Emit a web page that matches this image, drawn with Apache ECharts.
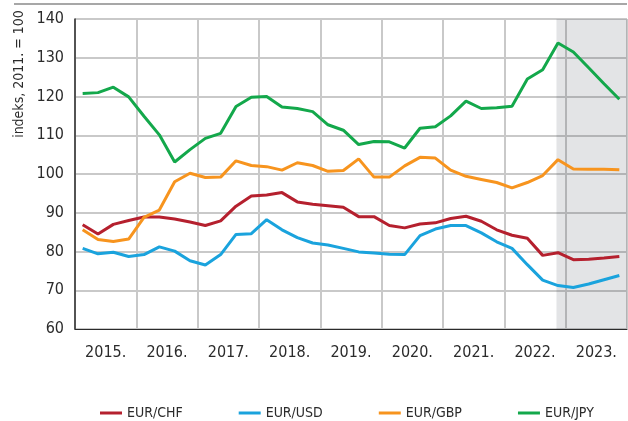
<!DOCTYPE html>
<html>
<head>
<meta charset="utf-8">
<script src="https://cdn.jsdelivr.net/npm/echarts@6/dist/echarts.min.js"></script>
<style>
    html, body {margin:0;padding:0;background:#ffffff;}
    #chart {width:628px;height:421px;}
</style>
</head>
<body>
<div id="chart"></div>
<script>
    // godine (oznake na x osi), podaci su kvartalni
    var years = ['2015.', '2016.', '2017.', '2018.', '2019.', '2020.', '2021.', '2022.', '2023.'];

    var eurChf = [86.9, 84.5, 87.0, 88.0, 88.9, 88.9, 88.4, 87.6, 86.7, 87.9, 91.7, 94.3,
                  94.6, 95.2, 92.8, 92.2, 91.8, 91.4, 89.0, 89.0, 86.7, 86.1, 87.1, 87.4,
                  88.5, 89.1, 87.8, 85.6, 84.2, 83.4, 79.0, 79.7, 77.9, 78.0, 78.3, 78.7];
    var eurUsd = [80.8, 79.4, 79.8, 78.7, 79.2, 81.2, 80.1, 77.6, 76.5, 79.2, 84.4, 84.6,
                  88.2, 85.6, 83.6, 82.2, 81.7, 80.8, 79.9, 79.6, 79.3, 79.2, 84.1, 85.8,
                  86.7, 86.7, 84.8, 82.5, 80.8, 76.6, 72.6, 71.2, 70.7, 71.6, 72.7, 73.8];
    var eurGbp = [85.6, 83.1, 82.6, 83.2, 88.8, 90.7, 98.0, 100.2, 99.1, 99.2, 103.4, 102.2,
                  101.9, 101.0, 102.9, 102.2, 100.7, 100.9, 103.9, 99.2, 99.2, 102.1, 104.3, 104.1,
                  101.0, 99.4, 98.6, 97.8, 96.4, 97.8, 99.6, 103.7, 101.3, 101.2, 101.2, 101.1];
    var eurJpy = [120.8, 121.0, 122.4, 119.9, 114.9, 110.1, 103.1, 106.3, 109.2, 110.5, 117.4, 119.8,
                  120.0, 117.3, 116.9, 116.1, 112.7, 111.3, 107.6, 108.4, 108.3, 106.7, 111.8, 112.2,
                  115.0, 118.8, 116.9, 117.1, 117.5, 124.5, 126.9, 133.8, 131.5, 127.4, 123.3, 119.3];

    // projekcija (zasjenjeno) - u kvartalima od pocetka 2015.
    var shadeFrom = 31.4;
    var shadeTo = 36;

    var yTicks = {min: 60, max: 140, interval: 10};

    var font = "'Liberation Sans Narrow', 'Arial Narrow', 'DejaVu Sans Condensed', sans-serif";

    function toPoints(arr) {
        return arr.map(function (v, i) { return [i + 0.5, v]; });
    }

    var chart = echarts.init(document.getElementById('chart'), null, {renderer: 'canvas'});

    var option = {
        animation: false,
        textStyle: {fontFamily: font},
        grid: {
            left: 75, right: 1, top: 19, bottom: 92,
            show: true, borderColor: '#2b2b2b', borderWidth: 1
        },
        graphic: [
            {
                type: 'line',
                shape: {x1: 14, y1: 4, x2: 627, y2: 4},
                style: {stroke: '#8a8a8a', lineWidth: 1.5}
            },
            {
                type: 'text',
                x: 19, y: 74,
                rotation: Math.PI / 2,
                style: {
                    text: 'indeks, 2011. = 100',
                    fontFamily: font, fontSize: 14, fill: '#2b2b2b',
                    align: 'center', verticalAlign: 'middle'
                }
            }
        ],
        legend: {
            data: ['EUR/CHF', 'EUR/USD', 'EUR/GBP', 'EUR/JPY'],
            left: 95, top: 401,
            itemWidth: 22, itemHeight: 3, itemGap: 56,
            icon: 'rect',
            textStyle: {fontFamily: font, fontSize: 14, color: '#2b2b2b'}
        },
        xAxis: [
            {
                type: 'value',
                min: 0, max: 36, interval: 4,
                axisLine: {show: true, lineStyle: {color: '#2b2b2b', width: 1}},
                axisTick: {show: false},
                axisLabel: {show: false},
                splitLine: {show: true, lineStyle: {color: '#c9c9c9', width: 2}}
            },
            {
                type: 'category',
                data: years,
                position: 'bottom',
                boundaryGap: true,
                axisLine: {show: false},
                axisTick: {show: false},
                splitLine: {show: false},
                axisLabel: {fontFamily: font, fontSize: 16, color: '#2b2b2b', margin: 16}
            }
        ],
        yAxis: {
            type: 'value',
            min: yTicks.min, max: yTicks.max, interval: yTicks.interval,
            axisLine: {show: true, lineStyle: {color: '#2b2b2b', width: 1.5}},
            axisTick: {show: false},
            axisLabel: {fontFamily: font, fontSize: 16, color: '#2b2b2b', margin: 11},
            splitLine: {show: true, lineStyle: {color: '#c9c9c9', width: 2}}
        },
        series: [
            {
                name: 'shade',
                type: 'line',
                data: [],
                silent: true,
                markArea: {
                    silent: true,
                    itemStyle: {color: 'rgba(25,30,50,0.12)'},
                    data: [[{xAxis: shadeFrom}, {xAxis: shadeTo}]]
                }
            },
            {
                name: 'EUR/CHF', type: 'line', data: toPoints(eurChf),
                showSymbol: false, color: '#b5202e',
                lineStyle: {width: 3}
            },
            {
                name: 'EUR/USD', type: 'line', data: toPoints(eurUsd),
                showSymbol: false, color: '#1aa3dd',
                lineStyle: {width: 3}
            },
            {
                name: 'EUR/GBP', type: 'line', data: toPoints(eurGbp),
                showSymbol: false, color: '#f7941e',
                lineStyle: {width: 3}
            },
            {
                name: 'EUR/JPY', type: 'line', data: toPoints(eurJpy),
                showSymbol: false, color: '#13a84b',
                lineStyle: {width: 3}
            }
        ]
    };

    chart.setOption(option);
</script>
</body>
</html>
